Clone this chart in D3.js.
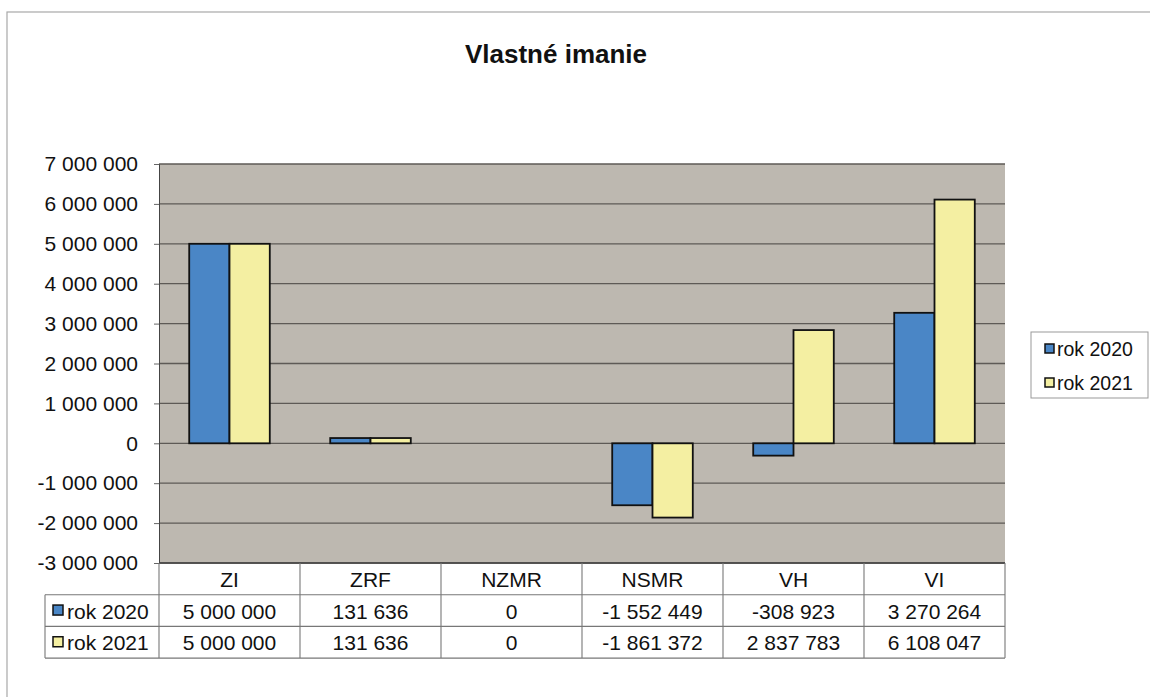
<!DOCTYPE html>
<html>
<head>
<meta charset="utf-8">
<script src="https://cdn.jsdelivr.net/npm/d3@7"></script>
<style>
  body { margin: 0; background: #fff; }
  text { font-family: "Liberation Sans", Arial, sans-serif; fill: #111; }
</style>
</head>
<body>
<div id="chart"></div>
<script>
const categories = ["ZI", "ZRF", "NZMR", "NSMR", "VH", "VI"];
const seriesNames = ["rok 2020", "rok 2021"];
const values2020 = [5000000, 131636, 0, -1552449, -308923, 3270264];
const values2021 = [5000000, 131636, 0, -1861372, 2837783, 6108047];
const yTicks = [-3000000, -2000000, -1000000, 0, 1000000, 2000000, 3000000, 4000000, 5000000, 6000000, 7000000];
const colors = ["#4a86c6", "#f4efa2"];

const W = 1150, H = 697;
const plot = {left: 159, right: 1005, top: 164, bottom: 563};
const rowH = 31.7;
const fs = "21px";

const locale = d3.formatLocale({decimal: ",", thousands: " ", grouping: [3], currency: ["", ""], minus: "-"});
const fmt = locale.format(",d");

const svg = d3.select("#chart").append("svg").attr("width", W).attr("height", H);

// outer chart border
svg.append("rect").attr("x", 7).attr("y", 12).attr("width", W + 20).attr("height", H + 20)
    .attr("fill", "none").attr("stroke", "#a8a8a8").attr("stroke-width", 1.2);

svg.append("text").attr("x", 556).attr("y", 63).attr("text-anchor", "middle")
    .style("font-size", "26px").style("font-weight", "bold").text("Vlastné imanie");

const x0 = d3.scaleBand().domain(categories).range([plot.left, plot.right]);
const x1 = d3.scaleBand().domain(seriesNames).range([0, x0.bandwidth()]).paddingInner(0).paddingOuter(0.75);
const y = d3.scaleLinear().domain([-3000000, 7000000]).range([plot.bottom, plot.top]);

svg.append("rect").attr("x", plot.left).attr("y", plot.top)
    .attr("width", plot.right - plot.left).attr("height", plot.bottom - plot.top)
    .attr("fill", "#bdb8b0");

// gridlines
svg.append("g").selectAll("line").data(yTicks).join("line")
    .attr("x1", plot.left).attr("x2", plot.right)
    .attr("y1", d => y(d)).attr("y2", d => y(d))
    .attr("stroke", "#5e5a56").attr("stroke-width", 1.3);

// y axis
const yAxis = d3.axisLeft(y).tickValues(yTicks).tickFormat(fmt).tickSize(5).tickPadding(16);
const ya = svg.append("g").attr("transform", `translate(${plot.left},0)`).call(yAxis);
ya.select(".domain").attr("stroke", "#444");
ya.selectAll(".tick line").attr("stroke", "#666");
ya.selectAll(".tick text").style("font-size", fs).attr("fill", "#111").attr("font-family", null);

// bars
const series = [values2020, values2021];
const groups = svg.append("g").selectAll("g").data(series).join("g")
    .attr("fill", (d, i) => colors[i]);
groups.selectAll("rect").data((d, i) => d.map((v, j) => ({v, cat: categories[j], s: seriesNames[i]})))
    .join("rect")
    .filter(d => d.v !== 0)
    .attr("x", d => x0(d.cat) + x1(d.s))
    .attr("width", x1.bandwidth())
    .attr("y", d => y(Math.max(0, d.v)))
    .attr("height", d => Math.abs(y(d.v) - y(0)))
    .attr("stroke", "#111").attr("stroke-width", 1.8);

// data table
const table = svg.append("g");
const tableLeft = 45;
const tblBottom = plot.bottom + rowH * 3;
const lineStyle = sel => sel.attr("stroke", "#777").attr("stroke-width", 1.1);

// horizontal lines
table.append("line").attr("x1", plot.left).attr("x2", plot.right).attr("y1", plot.bottom).attr("y2", plot.bottom)
    .attr("stroke", "#444").attr("stroke-width", 1.5);
[1, 2, 3].forEach(r => {
  table.append("line").attr("x1", tableLeft).attr("x2", plot.right)
      .attr("y1", plot.bottom + rowH * r).attr("y2", plot.bottom + rowH * r).call(lineStyle);
});
// vertical lines
table.append("line").attr("x1", tableLeft).attr("x2", tableLeft)
    .attr("y1", plot.bottom + rowH).attr("y2", tblBottom).call(lineStyle);
categories.forEach(c => {
  table.append("line").attr("x1", x0(c)).attr("x2", x0(c))
      .attr("y1", plot.bottom).attr("y2", tblBottom).call(lineStyle);
});
table.append("line").attr("x1", plot.right).attr("x2", plot.right)
    .attr("y1", plot.bottom).attr("y2", tblBottom).call(lineStyle);

// header
table.selectAll("text.cat").data(categories).join("text").attr("class", "cat")
    .attr("x", d => x0(d) + x0.bandwidth() / 2).attr("y", plot.bottom + rowH / 2 + 8)
    .attr("text-anchor", "middle").style("font-size", fs).text(d => d);

// rows
series.forEach((vals, i) => {
  const cy = plot.bottom + rowH * (i + 1) + rowH / 2;
  table.append("rect").attr("x", 53).attr("y", cy - 5.5).attr("width", 10).attr("height", 10)
      .attr("fill", colors[i]).attr("stroke", "#111").attr("stroke-width", 1.5);
  table.append("text").attr("x", 67).attr("y", cy + 8).style("font-size", fs).text(seriesNames[i]);
  table.selectAll("text.v" + i).data(vals).join("text").attr("class", "v" + i)
      .attr("x", (d, j) => x0(categories[j]) + x0.bandwidth() / 2).attr("y", cy + 8)
      .attr("text-anchor", "middle").style("font-size", fs).text(d => fmt(d));
});

// legend
const lg = svg.append("g").attr("transform", "translate(1031,332)");
lg.append("rect").attr("width", 117).attr("height", 66).attr("fill", "#fff")
    .attr("stroke", "#999").attr("stroke-width", 1);
seriesNames.forEach((s, i) => {
  const cy = 17 + i * 34;
  lg.append("rect").attr("x", 14).attr("y", cy - 5).attr("width", 9).attr("height", 9)
      .attr("fill", colors[i]).attr("stroke", "#111").attr("stroke-width", 1.5);
  lg.append("text").attr("x", 26).attr("y", cy + 7).style("font-size", "19.5px").text(s);
});
</script>
</body>
</html>
